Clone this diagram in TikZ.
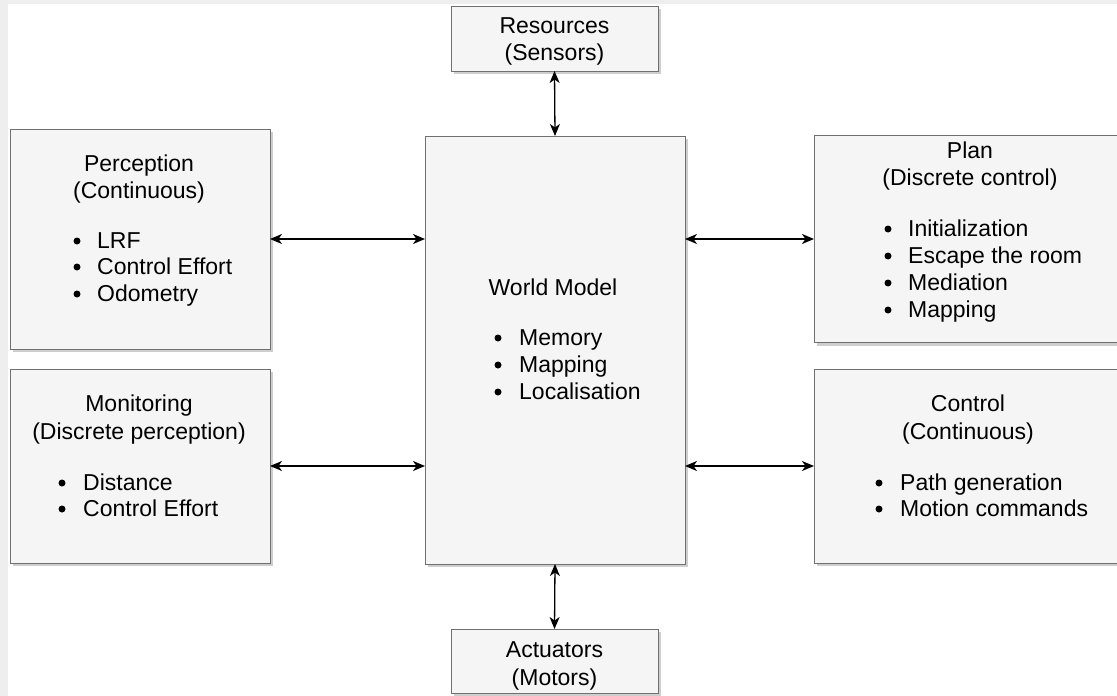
\documentclass[tikz,border=0pt]{standalone}
\usepackage{fontspec}
\setmainfont{Liberation Sans}
\usetikzlibrary{arrows.meta,shadows}
\definecolor{boxfill}{HTML}{F5F5F5}
\definecolor{boxline}{HTML}{707070}
\definecolor{bgstrip}{HTML}{EFEEEF}
\begin{document}
\begin{tikzpicture}[x=1pt,y=-1pt,
  block/.style={draw=boxline, fill=boxfill, line width=1pt, inner sep=0pt, outer sep=0pt,
    drop shadow={shadow xshift=3pt, shadow yshift=-3pt, opacity=0.35, fill=black!55}},
  txt/.style={font=\fontsize{23}{27}\selectfont, inner sep=0pt, anchor=base},
  ltxt/.style={font=\fontsize{23}{27}\selectfont, inner sep=0pt, anchor=base west},
  dot/.style={circle, fill=black, inner sep=0pt, minimum size=7pt},
  arr/.style={{Stealth[length=12pt,width=10pt,inset=3.5pt]}-{Stealth[length=12pt,width=10pt,inset=3.5pt]}, line width=1.3pt, black}]
\useasboundingbox (0,0) rectangle (1117,696);
\clip (0,0) rectangle (1117,696);
\fill[white] (0,0) rectangle (1117,696);
\fill[bgstrip] (0,0) rectangle (1117,4);
\fill[bgstrip] (0,0) rectangle (7.5,696);

% boxes
\node[block, minimum width=207pt, minimum height=65pt] (res) at (554.5,38.5) {};
\node[block, minimum width=260pt, minimum height=428pt] (world) at (555,350) {};
\node[block, minimum width=207pt, minimum height=64pt] (act) at (554.5,661) {};
\node[block, minimum width=260pt, minimum height=220pt] (perc) at (140,239) {};
\node[block, minimum width=260pt, minimum height=194pt] (mon) at (140,466) {};
\node[block, minimum width=312pt, minimum height=207pt] (plan) at (970,239) {};
\node[block, minimum width=312pt, minimum height=194pt] (ctrl) at (970,466) {};

% connectors
\draw[arr] (res.south) -- (world.north);
\draw[arr] (world.south) -- (act.north);
\draw[arr] (perc.east) -- (perc.east -| world.west);
\draw[arr] (mon.east) -- (mon.east -| world.west);
\draw[arr] (world.east |- plan.west) -- (plan.west);
\draw[arr] (world.east |- ctrl.west) -- (ctrl.west);

% Resources
\node[txt] (resA) at (554.5,33.5) {Resources};
\node[txt] (resB) at (554.5,60.5) {(Sensors)};
% Actuators
\node[txt] (actA) at (554.5,657.5) {Actuators};
\node[txt] (actB) at (554.5,685.5) {(Motors)};

% Perception
\node[txt] (pA) at (139,171.5) {Perception};
\node[txt] (pB) at (139,198.5) {(Continuous)};
\node[dot] (pd1) at (77,241) {};
\node[ltxt] (p1) at (97,248.5) {LRF};
\node[dot] (pd2) at (77,267) {};
\node[ltxt] (p2) at (97,274.5) {Control Effort};
\node[dot] (pd3) at (77,294) {};
\node[ltxt] (p3) at (97,301.5) {Odometry};

% Monitoring
\node[txt] (mA) at (139,411.5) {Monitoring};
\node[txt] (mB) at (139,439.5) {(Discrete perception)};
\node[dot] (md1) at (62,483) {};
\node[ltxt] (m1) at (83,490.5) {Distance};
\node[dot] (md2) at (62,509) {};
\node[ltxt] (m2) at (83,516.5) {Control Effort};

% World Model
\node[txt] (wA) at (553,295.5) {World Model};
\node[dot] (wd1) at (498,338) {};
\node[ltxt] (w1) at (519,345.5) {Memory};
\node[dot] (wd2) at (498,365) {};
\node[ltxt] (w2) at (519,372.5) {Mapping};
\node[dot] (wd3) at (498,392) {};
\node[ltxt] (w3) at (519,399.5) {Localisation};

% Plan
\node[txt] (plA) at (970,158.5) {Plan};
\node[txt] (plB) at (970,185.5) {(Discrete control)};
\node[dot] (pld1) at (888,229) {};
\node[ltxt] (pl1) at (908,236.5) {Initialization};
\node[dot] (pld2) at (888,256) {};
\node[ltxt] (pl2) at (908,263.5) {Escape the room};
\node[dot] (pld3) at (888,283) {};
\node[ltxt] (pl3) at (908,290.5) {Mediation};
\node[dot] (pld4) at (888,310) {};
\node[ltxt] (pl4) at (908,317.5) {Mapping};

% Control
\node[txt] (cA) at (968,411.5) {Control};
\node[txt] (cB) at (968,439.5) {(Continuous)};
\node[dot] (cd1) at (879,483) {};
\node[ltxt] (c1) at (900,490.5) {Path generation};
\node[dot] (cd2) at (879,509) {};
\node[ltxt] (c2) at (900,516.5) {Motion commands};
\end{tikzpicture}
\end{document}
